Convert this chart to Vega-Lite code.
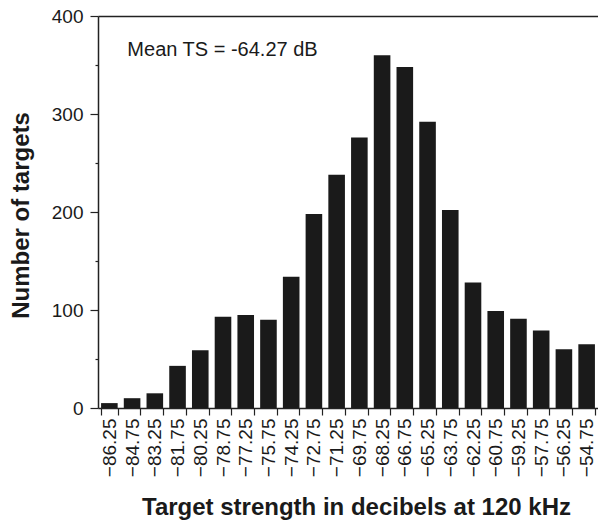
{
  "$schema": "https://vega.github.io/schema/vega-lite/v6.json",
  "width": 500,
  "height": 392,
  "autosize": {"type": "none"},
  "padding": {"left": 98, "top": 16, "right": 0, "bottom": 114},
  "background": "white",
  "config": {
    "view": {"stroke": null},
    "font": "Liberation Sans",
    "axis": {
      "domainColor": "#222222",
      "domainWidth": 1.5,
      "tickColor": "#222222",
      "tickWidth": 1.2,
      "labelColor": "#1a1a1a",
      "labelFont": "Liberation Sans",
      "titleFont": "Liberation Sans",
      "titleColor": "#1a1a1a",
      "titleFontWeight": "bold",
      "titleFontSize": 24,
      "grid": false
    }
  },
  "data": {
    "values": [
      {"ts": -86.25, "count": 5},
      {"ts": -84.75, "count": 10},
      {"ts": -83.25, "count": 15},
      {"ts": -81.75, "count": 43},
      {"ts": -80.25, "count": 59},
      {"ts": -78.75, "count": 93},
      {"ts": -77.25, "count": 95},
      {"ts": -75.75, "count": 90},
      {"ts": -74.25, "count": 134},
      {"ts": -72.75, "count": 198},
      {"ts": -71.25, "count": 238},
      {"ts": -69.75, "count": 276},
      {"ts": -68.25, "count": 360},
      {"ts": -66.75, "count": 348},
      {"ts": -65.25, "count": 292},
      {"ts": -63.75, "count": 202},
      {"ts": -62.25, "count": 128},
      {"ts": -60.75, "count": 99},
      {"ts": -59.25, "count": 91},
      {"ts": -57.75, "count": 79},
      {"ts": -56.25, "count": 60},
      {"ts": -54.75, "count": 65}
    ]
  },
  "layer": [
    {
      "mark": {"type": "bar", "color": "#1a1a1a"},
      "encoding": {
        "x": {
          "field": "ts",
          "type": "ordinal",
          "scale": {"paddingInner": 0.27, "paddingOuter": 0.135},
          "axis": {
            "orient": "bottom",
            "title": "Target strength in decibels at 120 kHz",
            "titleX": 258,
            "titleY": 99,
            "titleBaseline": "middle",
            "labelAngle": -90,
            "labelAlign": "right",
            "labelBaseline": "middle",
            "labelFontSize": 19,
            "labelPadding": 3,
            "labelExpr": "isValid(datum.value) && isFinite(datum.value) ? replace(format(datum.value, '.2f'), '-', '\u2212') : ''",
            "tickSize": 7,
            "tickBand": "extent"
          }
        },
        "y": {
          "field": "count",
          "type": "quantitative",
          "scale": {"domain": [0, 400], "nice": false},
          "axis": {
            "orient": "left",
            "title": "Number of targets",
            "titleX": -77,
            "titleY": 199,
            "titleBaseline": "middle",
            "values": [0, 100, 200, 300, 400],
            "labelFontSize": 19,
            "labelPadding": 7,
            "tickSize": 8
          }
        }
      }
    },
    {
      "data": {"values": [{"label": "Mean TS = -64.27 dB"}]},
      "mark": {
        "type": "text",
        "align": "left",
        "baseline": "alphabetic",
        "dx": 18,
        "fontSize": 20,
        "color": "#1a1a1a",
        "font": "Liberation Sans"
      },
      "encoding": {
        "x": {
          "datum": -86.25,
          "type": "ordinal",
          "axis": {
            "orient": "top",
            "title": null,
            "labels": false,
            "ticks": false,
            "domain": true
          }
        },
        "y": {
          "datum": 359,
          "type": "quantitative",
          "axis": {
            "orient": "left",
            "title": null,
            "labels": false,
            "domain": false,
            "values": [50, 150, 250, 350],
            "tickSize": 3
          }
        },
        "text": {"field": "label"}
      }
    }
  ],
  "resolve": {"axis": {"x": "independent", "y": "independent"}}
}
